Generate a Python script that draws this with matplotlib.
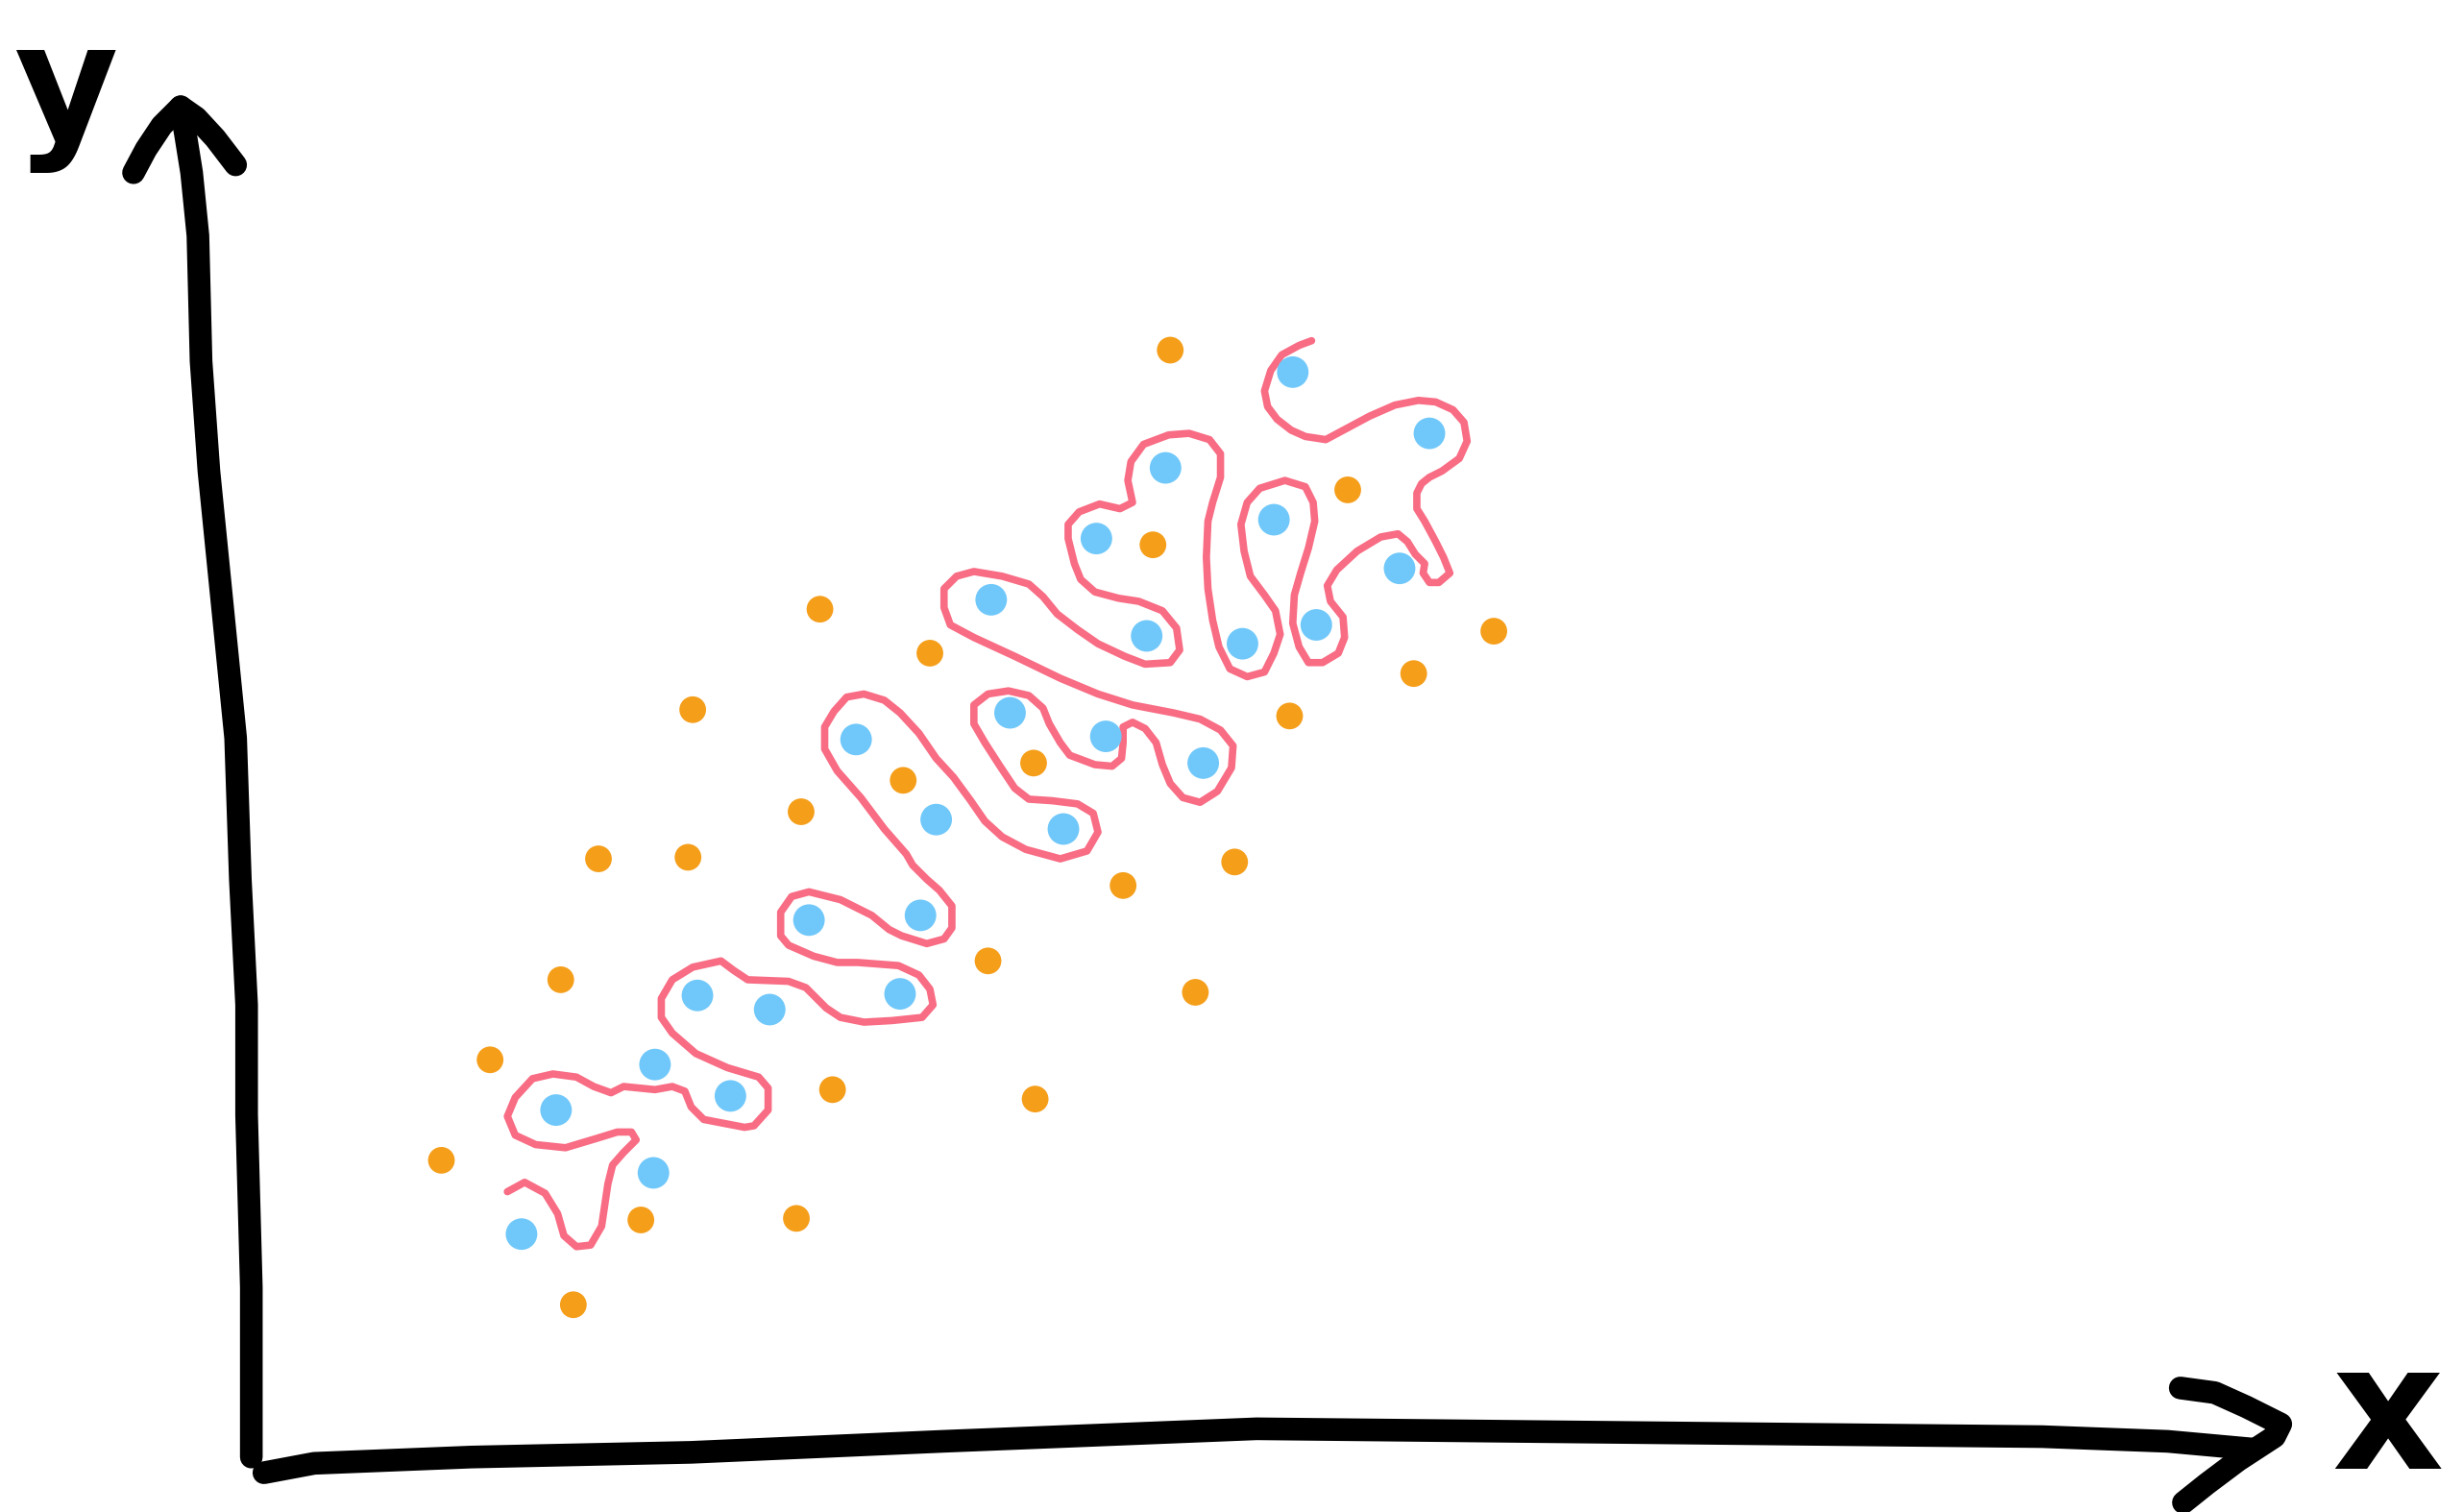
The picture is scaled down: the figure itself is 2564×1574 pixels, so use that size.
import matplotlib.pyplot as plt

# sketch coordinates (pixels of the drawing, y grows downward)
blue_x = [823, 910, 742, 698, 811, 631, 730, 791, 891, 838, 545, 643, 704, 766,
          596, 677, 515, 586, 444, 490, 573, 417, 354, 465, 416, 332]
blue_y = [237, 276, 298, 343, 331, 382, 405, 410, 362, 398, 471, 454, 469, 486,
          522, 528, 586, 583, 634, 643, 633, 678, 707, 698, 747, 786]

orange_x = [745, 522, 592, 441, 858, 734, 951, 900, 821, 575, 658, 510, 381, 438,
            786, 715, 629, 357, 761, 312, 530, 659, 281, 408, 507, 365]
orange_y = [223, 388, 416, 452, 312, 347, 402, 429, 456, 497, 486, 517, 547, 546,
            549, 564, 612, 624, 632, 675, 694, 700, 739, 777, 776, 831]

# hand drawn boundary, traced from bottom-left end to top end
curve_x = [323, 334, 347, 355, 359, 367, 376, 383, 387, 390, 397, 405, 402, 393,
           380, 360, 341, 328, 323, 328, 339, 352, 367, 378, 389, 397, 417, 428,
           436, 440, 448, 474, 480, 489, 489, 483, 463, 443, 428, 421, 421, 428,
           441, 459, 467, 476, 502, 513, 526, 535, 550, 568, 587, 594, 592, 585,
           572, 546, 533, 518, 502, 497, 497, 504, 515, 535, 555, 566, 574, 590,
           601, 606, 606, 598, 590, 581,
           577, 563, 548, 533, 525, 525, 531, 539, 550, 563, 573, 585, 596, 607,
           618, 627, 638, 653, 675, 692, 699, 696, 686, 670, 655, 646, 636, 627,
           620, 620, 629, 642, 655, 664, 668, 675, 681, 697, 708, 714, 715, 715,
           721, 729, 736, 740, 745, 753, 764, 775, 784, 785, 777, 764, 747, 721,
           699, 675, 646, 620, 605, 601, 601, 609, 620, 638, 655, 664, 673, 686,
           699, 716, 729, 745, 751, 749, 740, 725, 712, 697, 688, 684, 680,
           680, 687, 700, 713, 721, 718, 720, 728, 744, 757, 770, 777, 777, 772,
           769, 768, 769, 772, 776, 783, 794, 805, 811, 815, 812, 805, 796, 792,
           790, 794, 802, 818, 831, 836, 837, 833, 828, 824, 823, 827, 833, 842,
           852, 856, 855, 847, 845, 851, 864, 879, 890, 896, 901, 907, 906, 910,
           916, 923, 919, 914, 907, 902, 902, 905, 910, 918, 929, 934, 932, 925,
           914, 903, 888, 872, 857, 844, 831, 822, 813, 807, 805, 809, 816, 827,
           835]
curve_y = [759, 753, 760, 773, 787, 794, 793, 781, 754, 742, 734, 726, 721, 721,
           725, 731, 729, 723, 711, 699, 687, 684, 686, 692, 696, 692, 694, 692,
           695, 705, 713, 718, 717, 707, 693, 686, 680, 671, 658, 648, 636, 624,
           616, 612, 618, 624, 625, 629, 642, 648, 651, 650, 648, 640, 630, 621,
           615, 613, 613, 609, 602, 596, 581, 571, 568, 573, 583, 592, 596, 601,
           598, 591, 577, 567, 560, 551,
           544, 528, 508, 491, 477, 463, 453, 444, 442, 446, 454, 467, 483, 495,
           510, 523, 533, 541, 547, 542, 530, 518, 512, 510, 509, 502, 487, 473,
           461, 449, 442, 440, 443, 451, 461, 473, 481, 487, 488, 483, 473, 463,
           460, 464, 473, 487, 499, 508, 511, 504, 489, 475, 465, 458, 454, 449,
           442, 432, 418, 406, 398, 387, 375, 367, 364, 367, 372, 380, 391, 401,
           410, 418, 423, 422, 414, 400, 389, 383, 381, 377, 369, 359, 343,
           334, 326, 321, 324, 320, 306, 294, 283, 277, 276, 280, 289, 304, 320,
           332, 355, 375, 395, 412, 426, 431, 428, 416, 404, 389, 379, 367, 351,
           334, 320, 311, 306, 310, 320, 332, 349, 365, 379, 397, 412, 422, 422,
           416, 406, 393, 383, 373, 363, 351, 342, 340, 345, 353, 359, 365, 371,
           371, 365, 355, 345, 332, 324, 314, 308, 304, 300, 292, 281, 269, 261,
           256, 255, 258, 265, 273, 280, 278, 274, 267, 259, 249, 236, 226, 220,
           217]

# hand drawn axes
yaxis_x = [160, 160, 157, 157, 153, 150, 143, 133, 128, 126, 122, 118, 115]
yaxis_y = [928, 820, 710, 640, 560, 470, 400, 300, 230, 150, 110, 85, 68]
yhead_x = [85, 93, 103, 115, 125, 137, 150]
yhead_y = [110, 95, 80, 68, 75, 88, 105]

xaxis_x = [168, 200, 300, 440, 600, 800, 1000, 1200, 1300, 1380, 1435]
xaxis_y = [938, 932, 928, 925, 918, 910, 912, 914, 915, 918, 923]
xhead_x = [1388, 1410, 1430, 1452, 1448, 1425, 1405, 1390]
xhead_y = [884, 887, 896, 907, 915, 930, 945, 957]

fig = plt.figure(figsize=(25.64, 15.74), dpi=100)
ax = fig.add_axes([0, 0, 1, 1])
ax.set_xlim(0, 1568)
ax.set_ylim(963, 0)
ax.axis('off')

stroke = dict(color='black', lw=17, solid_capstyle='round', solid_joinstyle='round')
ax.plot(yaxis_x, yaxis_y, **stroke)
ax.plot(yhead_x, yhead_y, **stroke)
ax.plot(xaxis_x, xaxis_y, **stroke)
ax.plot(xhead_x, xhead_y, **stroke)

ax.plot(curve_x, curve_y, color='#F86C84', lw=5.5, solid_capstyle='round', solid_joinstyle='round')

ax.scatter(orange_x, orange_y, s=400, color='#F59E1A', edgecolors='none', zorder=3)
ax.scatter(blue_x, blue_y, s=560, color='#70C8FA', edgecolors='none', zorder=3)

ax.text(42, 60, 'y', fontsize=120, fontweight='bold', ha='center', va='center')
ax.text(1520, 905, 'x', fontsize=130, fontweight='bold', ha='center', va='center')

fig.savefig('out.png', dpi=100)
